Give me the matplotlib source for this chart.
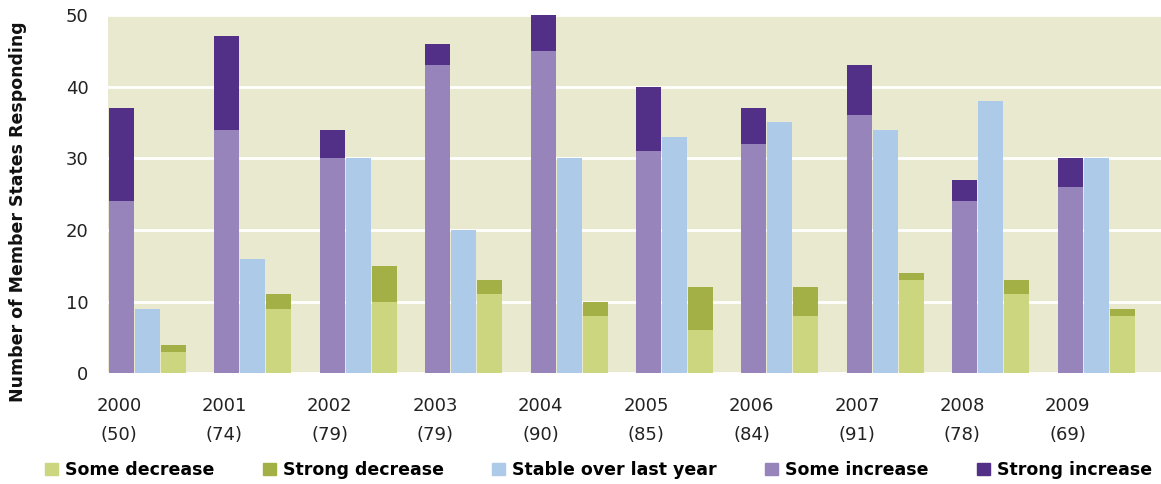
import numpy as np
import matplotlib
matplotlib.use("Agg")
import matplotlib.pyplot as plt
from matplotlib.patches import Patch

anos = ['2000', '2001', '2002', '2003', '2004', '2005', '2006', '2007', '2008', '2009']
respostas = [50, 74, 79, 79, 90, 85, 84, 91, 78, 69]

some_increase = [24, 34, 30, 43, 45, 31, 32, 36, 24, 26]
strong_increase = [13, 13, 4, 3, 5, 9, 5, 7, 3, 4]
stable = [9, 16, 30, 20, 30, 33, 35, 34, 38, 30]
some_decrease = [3, 9, 10, 11, 8, 6, 8, 13, 11, 8]
strong_decrease = [1, 2, 5, 2, 2, 6, 4, 1, 2, 1]

cor_fundo = '#e9e9d0'
cor_strong_inc = '#533088'
cor_some_inc = '#9784bb'
cor_stable = '#aecae9'
cor_some_dec = '#cbd67e'
cor_strong_dec = '#a2b045'

fig = plt.figure(figsize=(11.61, 4.84), dpi=100)
ax = fig.add_axes([0.093, 0.229, 0.907, 0.74])
ax.set_facecolor(cor_fundo)

x = np.arange(len(anos))
w = 0.237
d = 0.2465

ax.bar(x - d, some_increase, w, color=cor_some_inc, zorder=3)
ax.bar(x - d, strong_increase, w, bottom=some_increase, color=cor_strong_inc, zorder=3)
ax.bar(x, stable, w, color=cor_stable, zorder=3)
ax.bar(x + d, some_decrease, w, color=cor_some_dec, zorder=3)
ax.bar(x + d, strong_decrease, w, bottom=some_decrease, color=cor_strong_dec, zorder=3)

ax.set_xlim(-0.375, 9.615)
ax.set_ylim(0, 50)
ax.set_yticks([0, 10, 20, 30, 40, 50])
ax.yaxis.grid(True, color='white', linewidth=2, zorder=1)
ax.set_axisbelow(True)
for s in ax.spines.values():
    s.set_visible(False)

ax.set_xticks(x - 0.27)
ax.set_xticklabels([f'{a}\n({r})' for a, r in zip(anos, respostas)],
                   fontsize=13, color='#222222', linespacing=1.8)
ax.tick_params(axis='both', length=0, labelsize=13, colors='#222222')
ax.tick_params(axis='x', pad=17)
ax.tick_params(axis='y', pad=14)

ax.set_ylabel('Number of Member States Responding', fontsize=12.5,
              fontweight='bold', color='#111111')
ax.yaxis.set_label_coords(-0.077, 0.45)

handles = [Patch(color=cor_some_dec, label='Some decrease'),
           Patch(color=cor_strong_dec, label='Strong decrease'),
           Patch(color=cor_stable, label='Stable over last year'),
           Patch(color=cor_some_inc, label='Some increase'),
           Patch(color=cor_strong_inc, label='Strong increase')]
leg = fig.legend(handles=handles, loc='lower left', ncol=5, frameon=False,
                 bbox_to_anchor=(0.025, -0.022), handlelength=0.75, handleheight=0.75,
                 handletextpad=0.4, columnspacing=2.8,
                 prop={'weight': 'bold', 'size': 12.5})

fig.savefig('out.png', dpi=100)
